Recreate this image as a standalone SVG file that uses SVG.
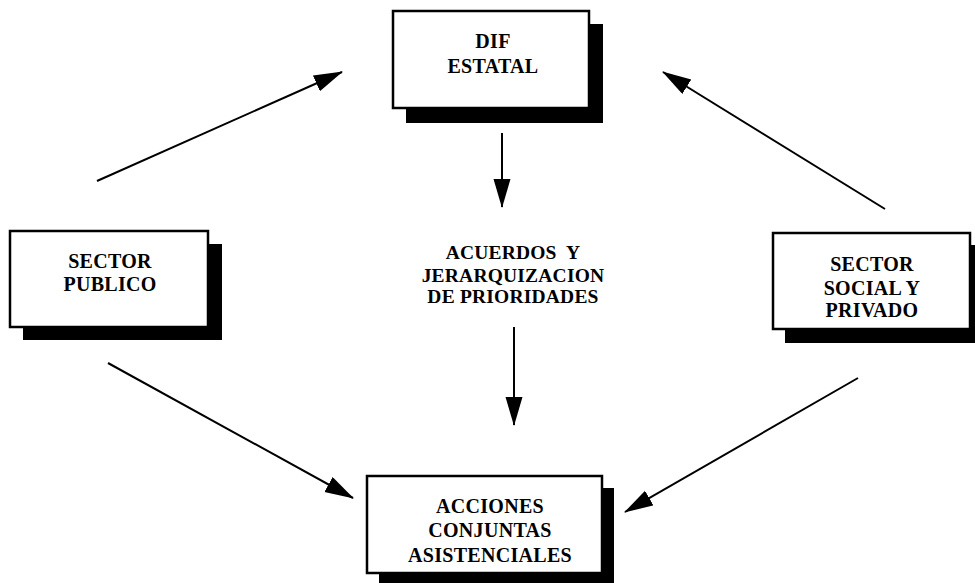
<svg xmlns="http://www.w3.org/2000/svg" width="975" height="583" viewBox="0 0 975 583">
<style>
.box{fill:#fff;stroke:#000;stroke-width:2.5}
.shadow{fill:#000}
.t{font-family:"Liberation Serif","Times New Roman",serif;font-weight:bold;font-size:20px;letter-spacing:0.3px;text-anchor:middle;fill:#000}
.m{font-size:19.5px;letter-spacing:0.2px}
.c{stroke:#000;stroke-width:2;fill:none;marker-end:url(#ah)}
</style>
<defs>
<marker id="ah" markerUnits="userSpaceOnUse" markerWidth="30" markerHeight="18" refX="28" refY="8.5" orient="auto">
<path d="M0,0 L29,8.5 L0,17 z" fill="#000"/>
</marker>
</defs>
<rect width="975" height="583" fill="#fff"/>
<g id="connectors">
<line class="c" x1="97" y1="181" x2="342" y2="72"/>
<line class="c" x1="885" y1="209" x2="663" y2="72"/>
<line class="c" x1="108" y1="363" x2="353" y2="498"/>
<line class="c" x1="858" y1="378" x2="625" y2="512"/>
<line class="c" x1="502" y1="133" x2="502" y2="207"/>
<line class="c" x1="514" y1="327" x2="514" y2="425"/>
</g>
<g id="dif">
<rect class="shadow" x="406" y="24" width="197" height="99"/>
<rect class="box" x="393" y="11" width="196" height="97"/>
<text class="t" x="493" y="48">DIF</text>
<text class="t" x="493" y="73">ESTATAL</text>
</g>
<g id="publico">
<rect class="shadow" x="23" y="244" width="199" height="96"/>
<rect class="box" x="10" y="231" width="198" height="96"/>
<text class="t" x="110" y="268">SECTOR</text>
<text class="t" x="110" y="291">PUBLICO</text>
</g>
<g id="social">
<rect class="shadow" x="785" y="245" width="197" height="98"/>
<rect class="box" x="773" y="233" width="197" height="96"/>
<text class="t" x="872" y="271">SECTOR</text>
<text class="t" x="872" y="295">SOCIAL Y</text>
<text class="t" x="872" y="317">PRIVADO</text>
</g>
<g id="acuerdos">
<text class="t m" x="513" y="259" xml:space="preserve">ACUERDOS  Y</text>
<text class="t m" x="513" y="282">JERARQUIZACION</text>
<text class="t m" x="513" y="303">DE PRIORIDADES</text>
</g>
<g id="acciones">
<rect class="shadow" x="379" y="488" width="235" height="100"/>
<rect class="box" x="367" y="476" width="235" height="97"/>
<text class="t" x="490" y="513">ACCIONES</text>
<text class="t" x="490" y="537">CONJUNTAS</text>
<text class="t" x="490" y="562">ASISTENCIALES</text>
</g>
</svg>
